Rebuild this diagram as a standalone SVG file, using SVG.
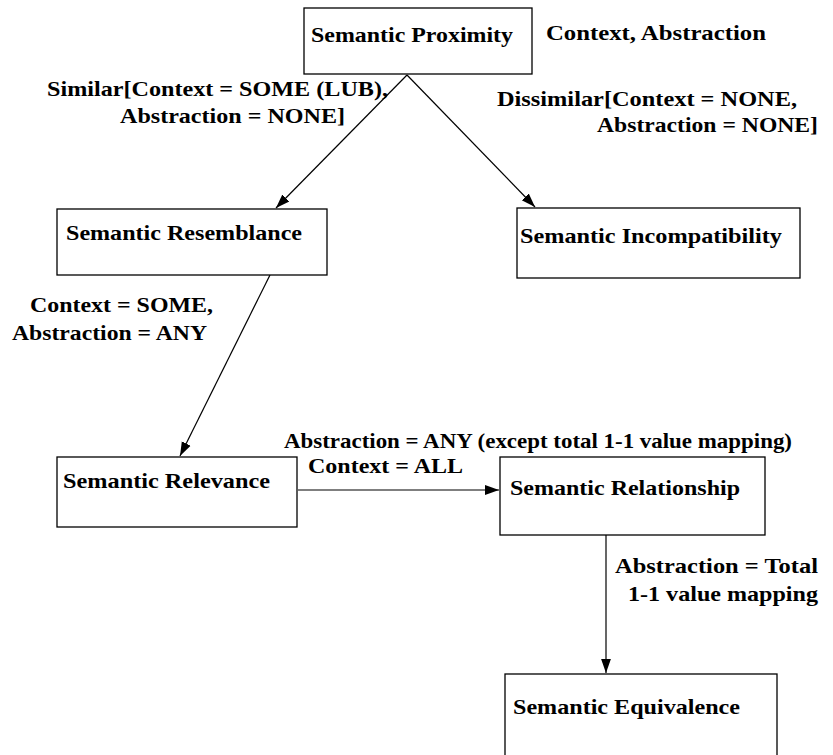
<svg xmlns="http://www.w3.org/2000/svg" width="833" height="755" viewBox="0 0 833 755">
<style>
  .box { fill: #fff; stroke: #000; stroke-width: 1.3; }
  .t { font-family: "Liberation Serif", "Times New Roman", serif; font-weight: bold; font-size: 22px; fill: #000; }
  .e { stroke: #000; stroke-width: 1.2; fill: none; marker-end: url(#ah); }
</style>
<defs>
  <marker id="ah" viewBox="0 0 10 10" refX="10" refY="5" markerWidth="14" markerHeight="14" markerUnits="userSpaceOnUse" orient="auto">
    <path d="M0,1.5 L10,5 L0,8.5 z" fill="#000"/>
  </marker>
</defs>
<rect width="833" height="755" fill="#fff"/>
<g id="connectors">
  <line class="e" x1="407" y1="75" x2="276" y2="208"/>
  <line class="e" x1="407" y1="75" x2="535" y2="207"/>
  <line class="e" x1="270" y1="275" x2="180" y2="456"/>
  <line class="e" x1="298" y1="490" x2="499" y2="490"/>
  <line class="e" x1="606" y1="535" x2="606" y2="673"/>
</g>
<g id="labels">
  <text class="t" x="546" y="40" textLength="220" lengthAdjust="spacingAndGlyphs">Context, Abstraction</text>
  <text class="t" x="47" y="96" textLength="341" lengthAdjust="spacingAndGlyphs">Similar[Context = SOME (LUB),</text>
  <text class="t" x="120" y="123" textLength="225" lengthAdjust="spacingAndGlyphs">Abstraction = NONE]</text>
  <text class="t" x="497" y="106" textLength="300" lengthAdjust="spacingAndGlyphs">Dissimilar[Context = NONE,</text>
  <text class="t" x="597" y="132" textLength="221" lengthAdjust="spacingAndGlyphs">Abstraction = NONE]</text>
  <text class="t" x="30" y="312" textLength="183" lengthAdjust="spacingAndGlyphs">Context = SOME,</text>
  <text class="t" x="12" y="340" textLength="195" lengthAdjust="spacingAndGlyphs">Abstraction = ANY</text>
  <text class="t" x="284" y="448" textLength="508" lengthAdjust="spacingAndGlyphs">Abstraction = ANY (except total 1-1 value mapping)</text>
  <text class="t" x="308" y="473" textLength="155" lengthAdjust="spacingAndGlyphs">Context = ALL</text>
  <text class="t" x="615" y="573" textLength="203" lengthAdjust="spacingAndGlyphs">Abstraction = Total</text>
  <text class="t" x="628" y="601" textLength="190" lengthAdjust="spacingAndGlyphs">1-1 value mapping</text>
</g>
<g id="proximity">
  <rect class="box" x="304" y="8" width="228" height="66"/>
  <text class="t" x="311" y="42" textLength="202" lengthAdjust="spacingAndGlyphs">Semantic Proximity</text>
</g>
<g id="resemblance">
  <rect class="box" x="57" y="209" width="270" height="66"/>
  <text class="t" x="66" y="240" textLength="236" lengthAdjust="spacingAndGlyphs">Semantic Resemblance</text>
</g>
<g id="incompatibility">
  <rect class="box" x="517" y="208" width="283" height="70"/>
  <text class="t" x="520" y="243" textLength="262" lengthAdjust="spacingAndGlyphs">Semantic Incompatibility</text>
</g>
<g id="relevance">
  <rect class="box" x="57" y="457" width="240" height="70"/>
  <text class="t" x="63" y="488" textLength="207" lengthAdjust="spacingAndGlyphs">Semantic Relevance</text>
</g>
<g id="relationship">
  <rect class="box" x="500" y="457" width="265" height="78"/>
  <text class="t" x="510" y="495" textLength="230" lengthAdjust="spacingAndGlyphs">Semantic Relationship</text>
</g>
<g id="equivalence">
  <rect class="box" x="505" y="674" width="272" height="90"/>
  <text class="t" x="513" y="714" textLength="227" lengthAdjust="spacingAndGlyphs">Semantic Equivalence</text>
</g>
</svg>
